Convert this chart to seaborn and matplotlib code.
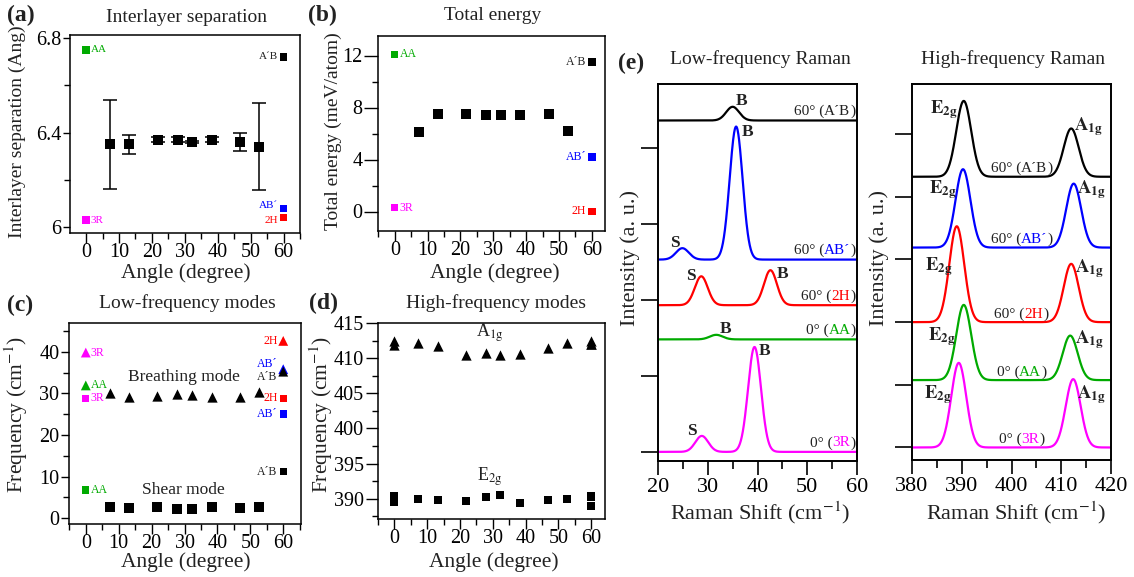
import numpy as np
import pandas as pd
import matplotlib
matplotlib.use('Agg')
import matplotlib.pyplot as plt
import seaborn as sns
from matplotlib.ticker import MultipleLocator, FixedLocator
from matplotlib.offsetbox import TextArea, HPacker, AnnotationBbox
from matplotlib import font_manager

# ---------------- data ----------------
angles = [7.34, 13.17, 21.79, 27.80, 32.20, 38.21, 46.83, 52.66]
separation = [6.35, 6.35, 6.37, 6.37, 6.36, 6.37, 6.36, 6.34]
separation_err = [0.19, 0.04, 0.01, 0.01, 0.006, 0.01, 0.04, 0.185]
energy = [6.1, 7.5, 7.5, 7.4, 7.4, 7.4, 7.5, 6.2]
breathing = [30.0, 29.1, 29.4, 29.8, 29.6, 29.2, 29.1, 30.2]
shear = [2.8, 2.4, 2.6, 2.1, 2.2, 2.7, 2.4, 2.8]
a1g = [412.2, 411.7, 410.5, 410.75, 410.5, 410.6, 411.4, 412.2]
e2g = [390.0, 389.85, 389.7, 390.2, 390.5, 389.4, 389.8, 390.0]

stack_names = ['3R', 'AA', '2H', 'AB\u00b4', 'A\u00b4B']
stack_angle = [0, 0, 60, 60, 60]
stack_sep = [6.03, 6.75, 6.04, 6.08, 6.72]
stack_energy = [0.3, 12.1, 0.0, 4.2, 11.5]
stack_breathing = [39.8, 31.9, 42.6, 35.8, 35.2]
stack_shear = [28.8, 6.8, 28.8, 25.0, 11.2]
stack_a1g = [412.4, 411.8, 412.0, 412.5, 412.0]
stack_e2g = [389.5, 390.4, 389.0, 390.25, 390.4]
stack_colors = ['#ff00ff', '#00aa00', '#ff0000', '#0000ff', '#000000']
stack_angle_text = ['0\u00b0 (', '0\u00b0 (', '60\u00b0 (', '60\u00b0 (', '60\u00b0 (']

# low-frequency Raman peaks (shear S, breathing B) and curve offsets
lf_offset = [0.0, 1.48, 1.93, 2.53, 4.36]
lf_S_pos = [28.8, 6.8, 28.7, 24.9, 11.2]
lf_S_amp = [0.21, 0.0, 0.38, 0.15, 0.0]
lf_B_pos = [39.4, 31.7, 42.6, 35.7, 35.0]
lf_B_amp = [1.38, 0.06, 0.46, 1.75, 0.18]
lf_width = 1.3
# high-frequency Raman peaks (E2g, A1g)
hf_offset = [0.0, 1.075, 2.0, 3.19, 4.32]
hf_E_pos = [389.4, 390.4, 389.0, 390.25, 390.4]
hf_E_amp = [1.35, 1.20, 1.53, 1.25, 1.21]
hf_A_pos = [412.4, 411.8, 412.0, 412.5, 412.0]
hf_A_amp = [1.09, 0.71, 0.93, 1.02, 0.77]
hf_width = 1.5

# ---------------- style ----------------
available = {f.name for f in font_manager.fontManager.ttflist}
SERIF = [f for f in ['Liberation Serif', 'STIXGeneral', 'DejaVu Serif'] if f in available]
if not SERIF:
    SERIF = ['DejaVu Serif']
sns.set_theme(style='ticks')
plt.rcParams['font.family'] = SERIF
plt.rcParams['mathtext.fontset'] = 'stix'
plt.rcParams['axes.linewidth'] = 1.1
plt.rcParams['axes.edgecolor'] = 'black'
plt.rcParams['xtick.color'] = 'black'
plt.rcParams['ytick.color'] = 'black'
plt.rcParams['text.color'] = '#222222'

W, H = 1134, 577
fig = plt.figure(figsize=(W / 100, H / 100), dpi=100)


def add_ax(l, t, r, b):
    return fig.add_axes([l / W, 1 - b / H, (r - l) / W, (b - t) / H])


def ftext(x, y, s, **kw):
    kw.setdefault('ha', 'center')
    kw.setdefault('va', 'center')
    fig.text(x / W, 1 - y / H, s, **kw)


def style_angle(ax, xlim, ylim, ymaj, ymin, ylen):
    ax.set_xlim(*xlim)
    ax.set_ylim(*ylim)
    ax.xaxis.set_major_locator(MultipleLocator(10))
    ax.xaxis.set_minor_locator(MultipleLocator(5))
    ax.yaxis.set_major_locator(MultipleLocator(ymaj))
    ax.yaxis.set_minor_locator(MultipleLocator(ymin))
    ax.tick_params(axis='x', which='major', direction='out', length=7.5, width=1.0,
                   labelsize=14.5, pad=0)
    ax.tick_params(axis='x', which='minor', direction='out', length=4, width=1.0)
    ax.tick_params(axis='y', which='major', direction='out', length=ylen, width=1.0,
                   labelsize=14.5, pad=1)
    ax.tick_params(axis='y', which='minor', direction='out', length=4, width=1.0)
    ax.set_xlabel('')
    ax.set_ylabel('')
    for sp in ax.spines.values():
        sp.set_visible(True)


stack_df = pd.DataFrame({'name': stack_names, 'angle': stack_angle, 'sep': stack_sep,
                         'energy': stack_energy, 'breathing': stack_breathing,
                         'shear': stack_shear, 'a1g': stack_a1g, 'e2g': stack_e2g})
pal = dict(zip(stack_names, stack_colors))


def stack_labels(ax, col, fs=8.5, dy=None):
    for i, n in enumerate(stack_names):
        a = stack_angle[i]
        v = stack_df[col][i]
        off = 0.0 if dy is None else dy[i]
        c = stack_colors[i] if stack_colors[i] != '#000000' else '#222222'
        if a == 0:
            ax.annotate(n, (a, v), xytext=(3.5, off), textcoords='offset points',
                        ha='left', va='center', color=c, fontsize=fs)
        else:
            ax.annotate(n, (a, v), xytext=(-4, off), textcoords='offset points',
                        ha='right', va='center', color=c, fontsize=fs)


# ---------------- (a) ----------------
ax = add_ax(70, 35, 300, 233)
ax.errorbar(angles, separation, yerr=separation_err, fmt='none', ecolor='black',
            elinewidth=1.1, capsize=4.7, capthick=1.1)
sns.scatterplot(x=angles, y=separation, marker='s', s=50, color='black', linewidth=0, ax=ax, zorder=3)
sns.scatterplot(data=stack_df, x='angle', y='sep', hue='name', palette=pal, marker='s', s=28,
                linewidth=0, legend=False, ax=ax, zorder=3)
stack_labels(ax, 'sep', fs=8, dy=[0, 0, -1.8, 1.8, 0])
style_angle(ax, (-4.9, 65.0), (5.975, 6.813), 0.4, 0.2, 5)
ax.yaxis.set_major_locator(FixedLocator([6.0, 6.4, 6.8]))
ax.set_yticklabels(['6', '6.4', '6.8'])

# ---------------- (b) ----------------
ax = add_ax(378, 36, 605, 231)
sns.scatterplot(x=angles, y=energy, marker='s', s=50, color='black', linewidth=0, ax=ax, zorder=3)
sns.scatterplot(data=stack_df, x='angle', y='energy', hue='name', palette=pal, marker='s', s=28,
                linewidth=0, legend=False, ax=ax, zorder=3)
stack_labels(ax, 'energy')
style_angle(ax, (-5.1, 64.0), (-1.5, 13.5), 4, 2, 10)

# ---------------- (c) ----------------
ax = add_ax(69, 323, 301, 524)
sns.scatterplot(x=angles, y=breathing, marker='^', s=55, color='black', linewidth=0, ax=ax, zorder=3)
sns.scatterplot(x=angles, y=shear, marker='s', s=48, color='black', linewidth=0, ax=ax, zorder=3)
sns.scatterplot(data=stack_df, x='angle', y='breathing', hue='name', palette=pal, marker='^', s=50,
                linewidth=0, legend=False, ax=ax, zorder=3)
sns.scatterplot(data=stack_df, x='angle', y='shear', hue='name', palette=pal, marker='s', s=28,
                linewidth=0, legend=False, ax=ax, zorder=3)
stack_labels(ax, 'breathing', dy=[0, 0, 0, 3.5, -3.5])
stack_labels(ax, 'shear')
ax.text(29.7, 34.0, 'Breathing mode', ha='center', va='center', fontsize=12.5)
ax.text(29.7, 6.8, 'Shear mode', ha='center', va='center', fontsize=12.5)
style_angle(ax, (-5.1, 65.4), (-1.4, 46.9), 10, 5, 6)

# ---------------- (d) ----------------
ax = add_ax(378, 323, 605, 519)
sns.scatterplot(x=angles, y=a1g, marker='^', s=55, color='black', linewidth=0, ax=ax, zorder=3)
sns.scatterplot(x=angles, y=e2g, marker='s', s=40, color='black', linewidth=0, ax=ax, zorder=3)
sns.scatterplot(data=stack_df, x='angle', y='a1g', marker='^', s=55, color='black', linewidth=0,
                ax=ax, zorder=3)
sns.scatterplot(data=stack_df, x='angle', y='e2g', marker='s', s=40, color='black', linewidth=0,
                ax=ax, zorder=3)
ax.text(29.0, 413.0, r'A$_{\mathrm{1g}}$', ha='center', va='baseline', fontsize=13)
ax.text(29.0, 392.6, r'E$_{\mathrm{2g}}$', ha='center', va='baseline', fontsize=13)
style_angle(ax, (-5.0, 64.2), (387.1, 415.0), 5, 2.5, 9)


# ---------------- (e) spectra ----------------
def spectra_df(xgrid, offs, p1, a1, p2, a2, w):
    rows = []
    for i, n in enumerate(stack_names):
        y = (offs[i] + a1[i] * np.exp(-0.5 * ((xgrid - p1[i]) / w) ** 2)
             + a2[i] * np.exp(-0.5 * ((xgrid - p2[i]) / w) ** 2))
        rows.append(pd.DataFrame({'shift': xgrid, 'intensity': y, 'name': n}))
    return pd.concat(rows, ignore_index=True)


def style_raman(ax, xlim, ylim, nticks):
    ax.set_xlim(*xlim)
    ax.set_ylim(*ylim)
    ax.xaxis.set_major_locator(MultipleLocator(10))
    ax.xaxis.set_minor_locator(MultipleLocator(5))
    ax.yaxis.set_major_locator(FixedLocator(list(range(nticks))))
    ax.set_yticklabels([])
    ax.tick_params(axis='x', which='major', direction='out', length=10, width=1.2,
                   labelsize=16, pad=2)
    ax.tick_params(axis='x', which='minor', direction='out', length=6, width=1.2)
    ax.tick_params(axis='y', which='major', direction='out', length=12, width=1.2, pad=0)
    for sp in ax.spines.values():
        sp.set_linewidth(1.4)
    ax.set_xlabel('')
    ax.set_ylabel('')


def state_label(ax, x, y, i, align):
    col = stack_colors[i]
    parts = [(stack_angle_text[i], '#222222'), (stack_names[i], col if col != '#000000' else '#222222'),
             (')', '#222222')]
    areas = [TextArea(t, textprops=dict(color=c, fontsize=11, family=SERIF)) for t, c in parts]
    box = HPacker(children=areas, align='baseline', pad=0, sep=0)
    ab = AnnotationBbox(box, (x, y), xycoords='data', box_alignment=(align, 0.0),
                        frameon=False, pad=0, annotation_clip=False)
    ax.add_artist(ab)


ax = add_ax(658, 84, 857, 461)
lf = spectra_df(np.linspace(20, 60, 801), lf_offset, lf_S_pos, lf_S_amp, lf_B_pos, lf_B_amp, lf_width)
sns.lineplot(data=lf, x='shift', y='intensity', hue='name', palette=pal, hue_order=stack_names,
             estimator=None, sort=False, legend=False, linewidth=1.6, ax=ax)
style_raman(ax, (20, 60), (-0.12, 4.84), 5)
for i in range(5):
    state_label(ax, 59.7, lf_offset[i] + 0.03, i, 1.0)
lf_peak_labels = [(36.8, 4.57, 'B'), (37.9, 4.15, 'B'), (23.3, 2.70, 'S'), (26.6, 2.26, 'S'),
                  (45.0, 2.29, 'B'), (33.6, 1.56, 'B'), (41.4, 1.28, 'B'), (26.8, 0.22, 'S')]
for x, y, s in lf_peak_labels:
    ax.text(x, y, s, ha='center', va='baseline', fontsize=12.5, fontweight='bold', color='#222222')

ax = add_ax(912, 84, 1111, 460)
hf = spectra_df(np.linspace(380, 420, 801), hf_offset, hf_E_pos, hf_E_amp, hf_A_pos, hf_A_amp, hf_width)
sns.lineplot(data=hf, x='shift', y='intensity', hue='name', palette=pal, hue_order=stack_names,
             estimator=None, sort=False, legend=False, linewidth=1.6, ax=ax)
style_raman(ax, (380, 420), (-0.2, 5.8), 6)
for i in range(5):
    state_label(ax, 402.0, hf_offset[i] + 0.02, i, 0.5)
E_lab = r'$\mathbf{E}_{\mathbf{2g}}$'
A_lab = r'$\mathbf{A}_{\mathbf{1g}}$'
hf_peak_labels = [(386.5, 5.34, E_lab), (415.4, 5.06, A_lab), (386.2, 4.05, E_lab), (416.0, 4.05, A_lab),
                  (385.4, 2.83, E_lab), (415.6, 2.80, A_lab), (386.0, 1.71, E_lab), (415.7, 1.66, A_lab),
                  (385.3, 0.78, E_lab), (416.0, 0.78, A_lab)]
for x, y, s in hf_peak_labels:
    ax.text(x, y, s, ha='center', va='baseline', fontsize=13.5, color='#222222')

# ---------------- texts ----------------
TXT = '#222222'
ftext(187, 17, 'Interlayer separation', fontsize=14, color=TXT)
ftext(493, 16, 'Total energy', fontsize=14, color=TXT)
ftext(187, 303, 'Low-frequency modes', fontsize=14, color=TXT)
ftext(496, 303, 'High-frequency modes', fontsize=14, color=TXT)
ftext(760, 59, 'Low-frequency Raman', fontsize=14, color=TXT)
ftext(1013, 59, 'High-frequency Raman', fontsize=14, color=TXT)

for x, y, s in [(21, 15, '(a)'), (322, 15, '(b)'), (20, 305, '(c)'), (324, 303, '(d)'), (631, 63, '(e)')]:
    ftext(x, y, s, fontsize=17, fontweight='bold', color=TXT)

ftext(17, 132, 'Interlayer separation (Ang)', fontsize=14, rotation=90, color=TXT)
ftext(333, 131, 'Total energy (meV/atom)', fontsize=14, rotation=90, color=TXT)
ftext(16, 415, r'Frequency (cm$^{\mathrm{-1}}$)', fontsize=15.5, rotation=90, color=TXT)
ftext(321, 415, r'Frequency (cm$^{\mathrm{-1}}$)', fontsize=15.5, rotation=90, color=TXT)
ftext(630, 258, 'Intensity (a. u.)', fontsize=16, rotation=90, color=TXT)
ftext(879, 258, 'Intensity (a. u.)', fontsize=16, rotation=90, color=TXT)

ftext(186, 273, 'Angle (degree)', fontsize=15.5, color=TXT)
ftext(495, 273, 'Angle (degree)', fontsize=15.5, color=TXT)
ftext(186, 562, 'Angle (degree)', fontsize=15.5, color=TXT)
ftext(494, 562, 'Angle (degree)', fontsize=15.5, color=TXT)
ftext(760, 513, r'Raman Shift (cm$^{\mathrm{-1}}$)', fontsize=16, color=TXT)
ftext(1016, 513, r'Raman Shift (cm$^{\mathrm{-1}}$)', fontsize=16, color=TXT)

fig.savefig('out.png', dpi=100)
